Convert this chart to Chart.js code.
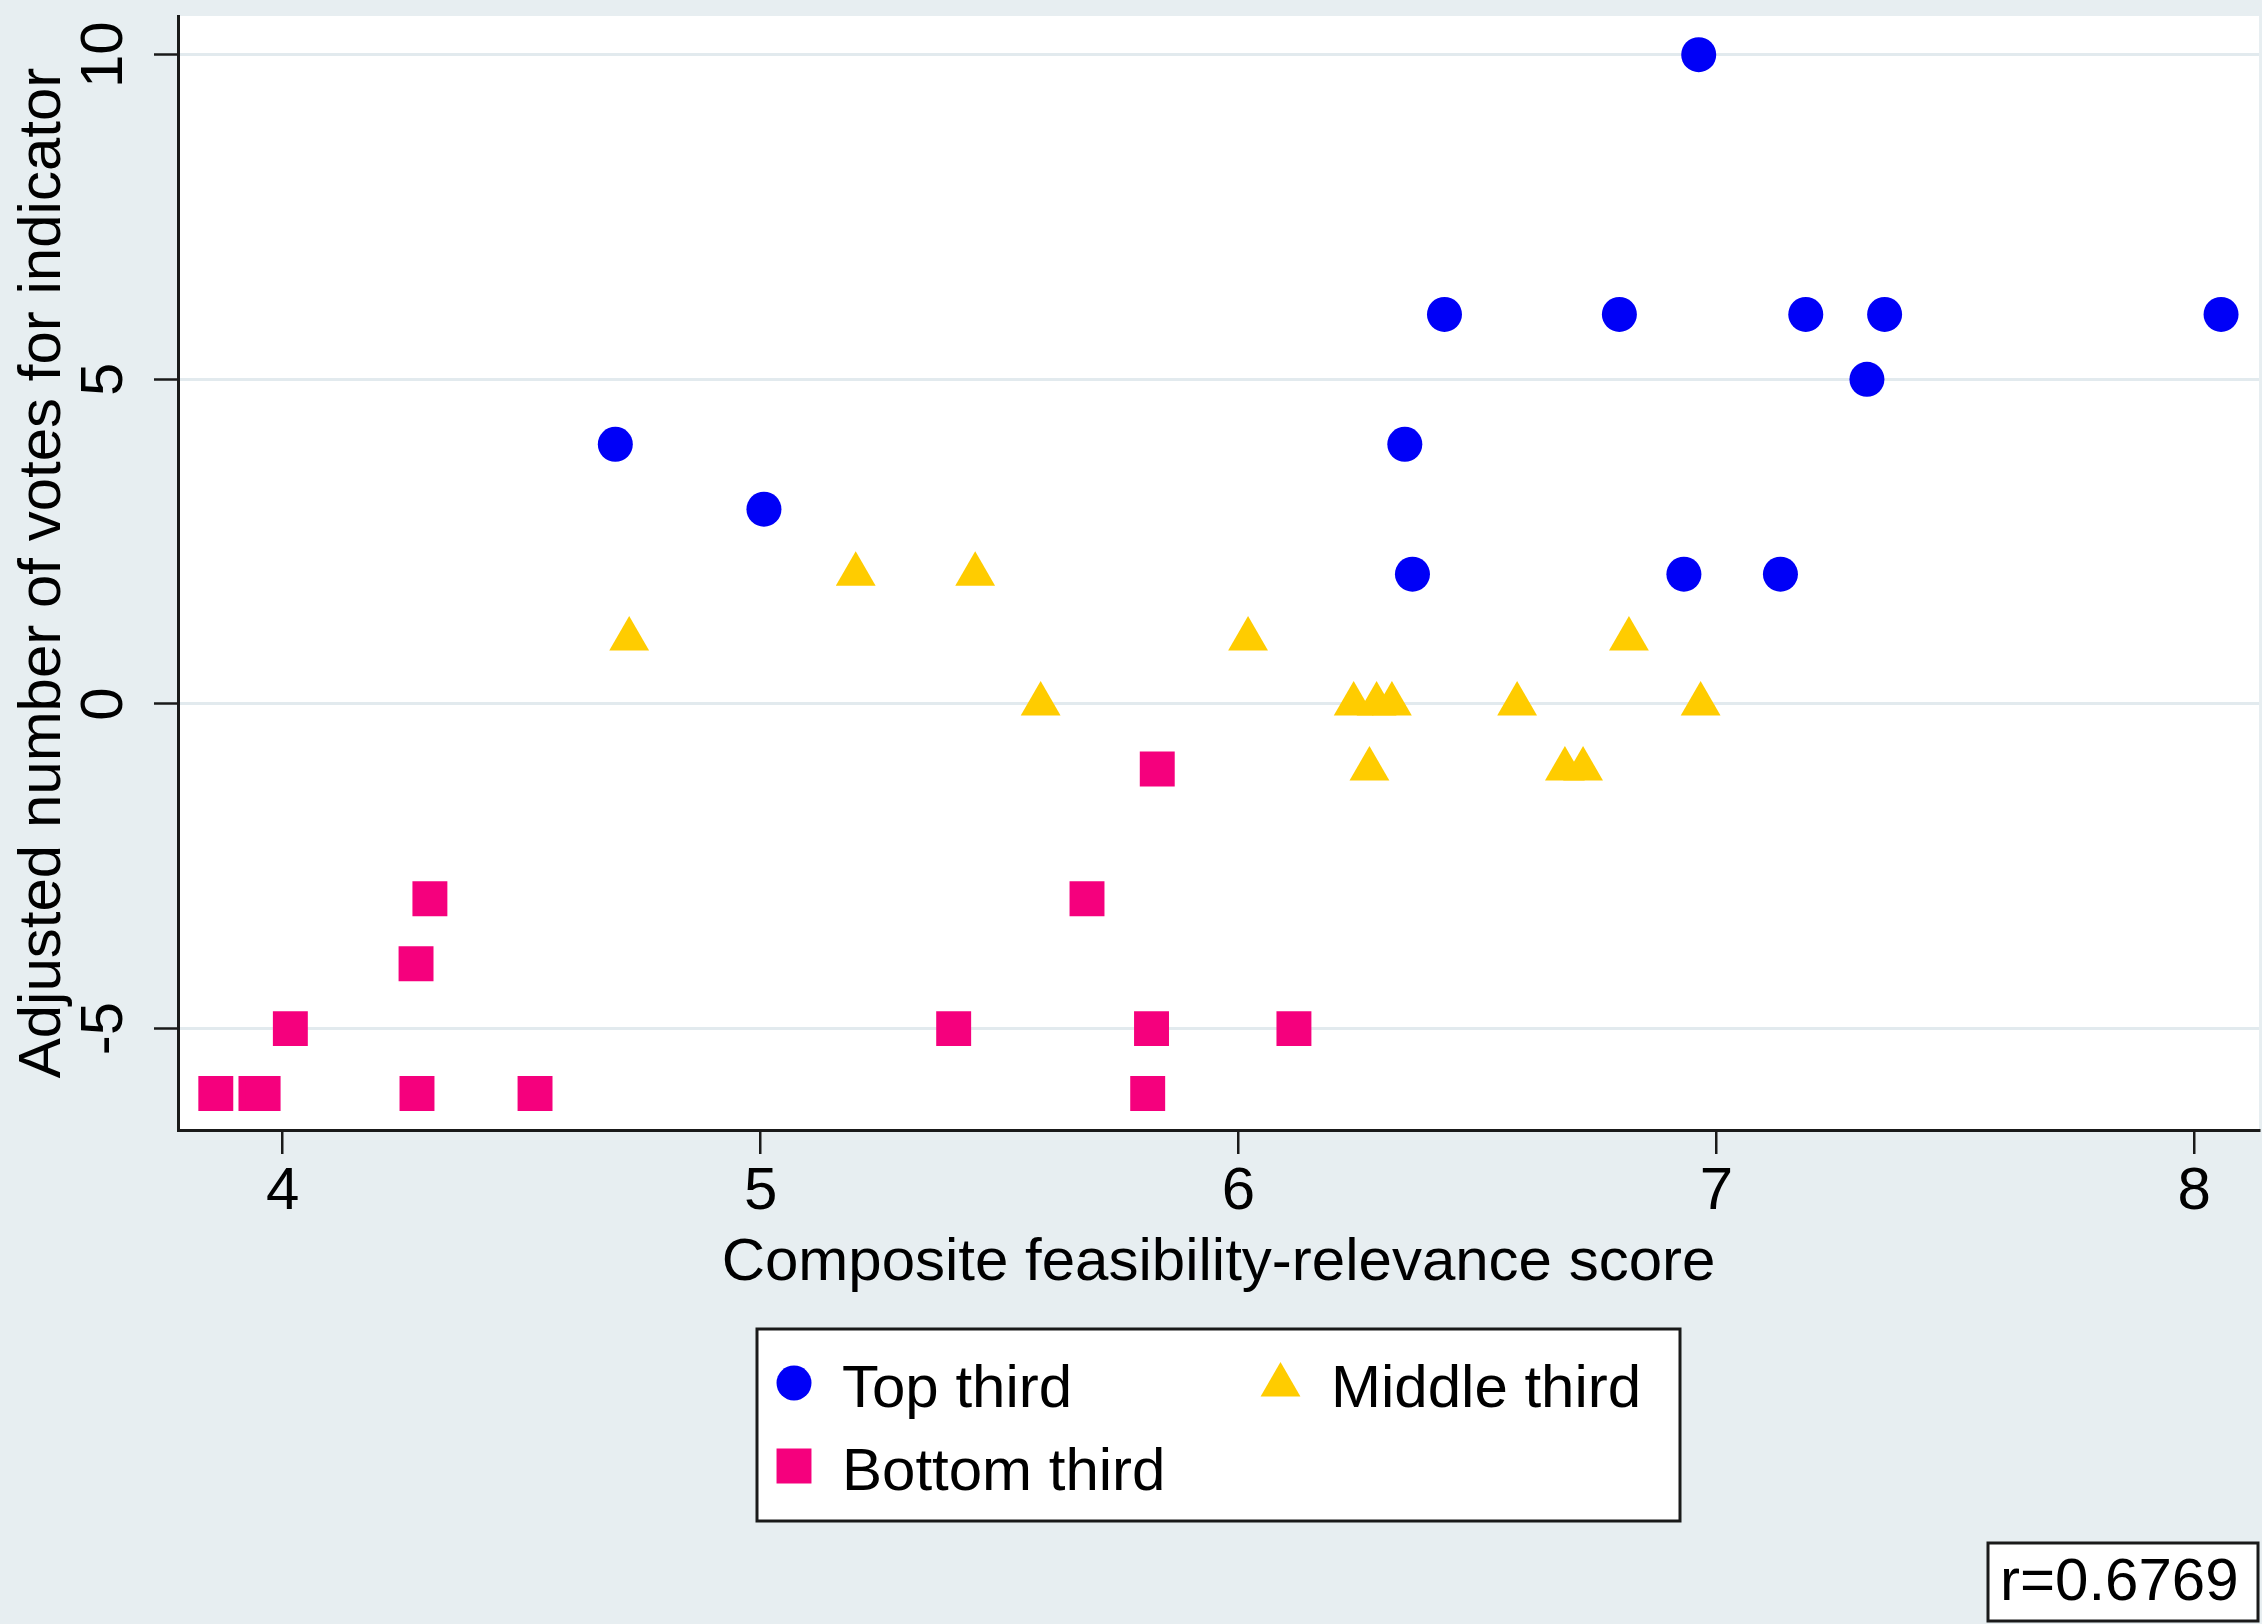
<!DOCTYPE html>
<html><head><meta charset="utf-8">
<script src="https://cdn.jsdelivr.net/npm/chart.js@4.4.1/dist/chart.umd.min.js"></script>
<style>html,body{margin:0;padding:0;background:#e7eef1;} canvas{display:block;}</style>
</head><body>
<canvas id="c" width="2262" height="1624"></canvas>
<script>
// ---- data ----
const seriesLabels = ['Top third', 'Middle third', 'Bottom third'];
const topX = [4.696, 5.007, 6.348, 6.364, 6.431, 6.797, 6.932, 6.963, 7.134, 7.187, 7.315, 7.352, 8.056];
const topY = [4, 3, 4, 2, 6, 6, 2, 10, 2, 6, 5, 6, 6];
const midX = [4.725, 5.199, 5.449, 5.586, 6.020, 6.241, 6.289, 6.321, 6.274, 6.583, 6.683, 6.721, 6.817, 6.967];
const midY = [1, 2, 2, 0, 1, 0, 0, 0, -1, 0, -1, -1, 1, 0];
const botX = [3.860, 3.944, 3.959, 4.016, 4.279, 4.308, 4.281, 4.528, 5.404, 5.683, 5.810, 5.818, 5.830, 6.116];
const botY = [-6, -6, -6, -5, -4, -3, -6, -6, -5, -3, -6, -5, -1, -5];
const xTicks = [4, 5, 6, 7, 8];
const yTicks = [-5, 0, 5, 10];
const xTitle = 'Composite feasibility-relevance score';
const yTitle = 'Adjusted number of votes for indicator';
const corrText = 'r=0.6769';

const FONT = '"Liberation Sans", Arial, Helvetica, sans-serif';
Chart.defaults.font.family = FONT;
Chart.defaults.color = '#000';

const pts = (xs, ys) => xs.map((x, i) => ({x: x, y: ys[i]}));

const BG = '#e7eef1';
const GRID = '#e2eaee';
const AXIS = '#1a1a1a';

const bgPlugin = {
  id: 'bg',
  beforeDraw(chart) {
    const ctx = chart.ctx, a = chart.chartArea;
    ctx.save();
    ctx.fillStyle = BG;
    ctx.fillRect(0, 0, chart.width, chart.height);
    ctx.fillStyle = '#ffffff';
    ctx.fillRect(a.left, a.top, a.right - a.left, a.bottom - a.top);
    ctx.restore();
  }
};

function symbol(ctx, style, r, x, y) {
  if (Chart.helpers && Chart.helpers.drawPoint) {
    Chart.helpers.drawPoint(ctx, {pointStyle: style, radius: r, borderWidth: 0, rotation: 0}, x, y);
    return;
  }
  ctx.beginPath();
  if (style === 'circle') ctx.arc(x, y, r, 0, Math.PI * 2);
  else if (style === 'rect') { const s = r * Math.SQRT1_2; ctx.rect(x - s, y - s, 2 * s, 2 * s); }
  else { ctx.moveTo(x, y - r); ctx.lineTo(x + r * 0.866, y + r / 2); ctx.lineTo(x - r * 0.866, y + r / 2); ctx.closePath(); }
  ctx.fill();
}

const legendPlugin = {
  id: 'boxLegend',
  afterDraw(chart) {
    const ctx = chart.ctx;
    ctx.save();
    // legend box
    ctx.fillStyle = '#ffffff';
    ctx.fillRect(757, 1329, 923, 192);
    ctx.lineWidth = 3;
    ctx.strokeStyle = AXIS;
    ctx.strokeRect(757, 1329, 923, 192);
    const pos = [[794, 1383, 842, 1407], [1280.5, 1385, 1331, 1407], [794, 1466, 842, 1490]];
    chart.data.datasets.forEach((ds, i) => {
      const p = pos[i];
      ctx.fillStyle = ds.backgroundColor;
      symbol(ctx, ds.pointStyle, ds.pointRadius, p[0], p[1]);
      ctx.fillStyle = '#000';
      ctx.font = '60px ' + FONT;
      ctx.textAlign = 'left';
      ctx.textBaseline = 'alphabetic';
      ctx.fillText(ds.label, p[2], p[3]);
    });
    // correlation box
    ctx.fillStyle = '#ffffff';
    ctx.fillRect(1988, 1543, 270, 78);
    ctx.strokeRect(1988, 1543, 270, 78);
    ctx.fillStyle = '#000';
    ctx.fillText(corrText, 2000, 1600);
    ctx.restore();
  }
};

new Chart(document.getElementById('c'), {
  type: 'scatter',
  data: {
    datasets: [
      {label: seriesLabels[0], data: pts(topX, topY), pointStyle: 'circle', pointRadius: 17.5,
       backgroundColor: '#0000f7', borderWidth: 0, pointBorderWidth: 0},
      {label: seriesLabels[1], data: pts(midX, midY), pointStyle: 'triangle', pointRadius: 23,
       backgroundColor: '#ffcc00', borderWidth: 0, pointBorderWidth: 0},
      {label: seriesLabels[2], data: pts(botX, botY), pointStyle: 'rect', pointRadius: 24.7,
       backgroundColor: '#f5007d', borderWidth: 0, pointBorderWidth: 0}
    ]
  },
  options: {
    responsive: false,
    animation: false,
    devicePixelRatio: 1,
    layout: {autoPadding: false, padding: {top: 16, left: 0, right: 3, bottom: 0}},
    plugins: {legend: {display: false}, tooltip: {enabled: false}},
    scales: {
      x: {
        type: 'linear', position: 'bottom',
        min: 3.7809, max: 8.1354,
        afterBuildTicks(s) { s.ticks = xTicks.map(v => ({value: v})); },
        afterFit(s) { s.height = 494; s.paddingLeft = 0; s.paddingRight = 0; },
        grid: {display: true, drawOnChartArea: false, drawTicks: true, tickLength: 24,
               tickColor: AXIS, tickWidth: 2.5, lineWidth: 2.5, color: AXIS},
        border: {display: true, color: AXIS, width: 3},
        ticks: {font: {size: 60}, color: '#000', padding: 2, maxRotation: 0, minRotation: 0,
                callback: v => String(v)},
        title: {display: true, text: xTitle, font: {size: 60}, color: '#000', padding: {top: 0, bottom: 325}}
      },
      y: {
        type: 'linear', position: 'left',
        min: -6.561, max: 10.596,
        afterBuildTicks(s) { s.ticks = yTicks.map(v => ({value: v})); },
        afterFit(s) { s.width = 178; s.paddingTop = 0; s.paddingBottom = 0; },
        grid: {display: true, drawOnChartArea: true, drawTicks: true, tickLength: 24,
               color: GRID, lineWidth: 3, tickColor: AXIS, tickWidth: 2.5},
        border: {display: true, color: AXIS, width: 3},
        ticks: {font: {size: 60}, color: '#000', padding: 15, minRotation: 90, maxRotation: 90,
                crossAlign: 'center', callback: v => String(v)},
        title: {display: true, text: yTitle, font: {size: 60}, color: '#000', padding: {top: 7, bottom: 0}}
      }
    }
  },
  plugins: [bgPlugin, legendPlugin]
});
</script>
</body></html>
